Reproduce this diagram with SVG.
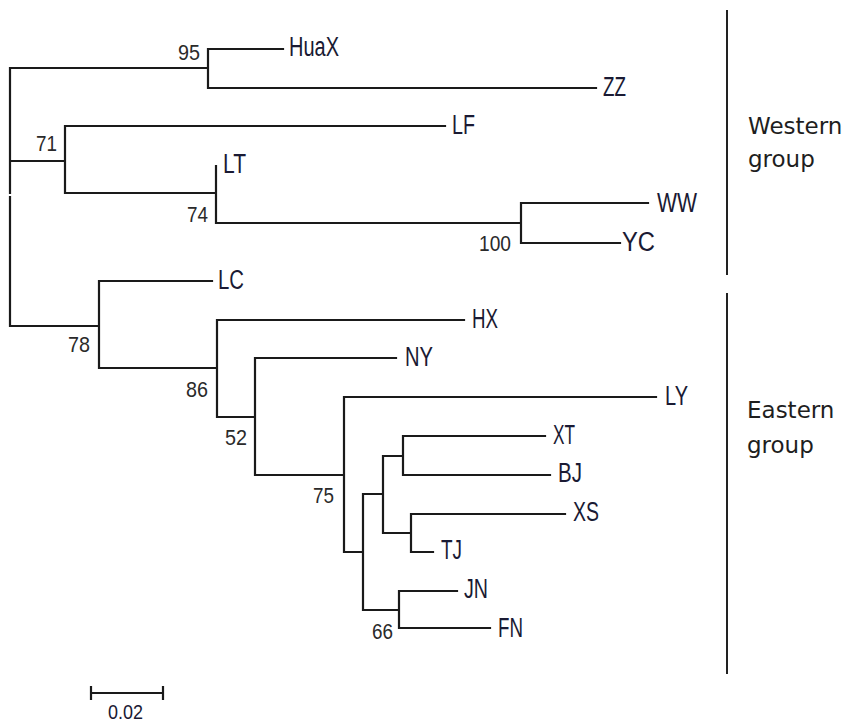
<svg xmlns="http://www.w3.org/2000/svg" width="845" height="724" viewBox="0 0 845 724">
<style>
.br{fill:none;stroke:#1a1a1a;stroke-width:2.2;stroke-linecap:square}
.sep{fill:none;stroke:#222;stroke-width:2}
.lf{font-family:"Liberation Sans",Arial,sans-serif;font-size:27px;fill:#1a1a33}
.bs{font-family:"Liberation Sans",Arial,sans-serif;font-size:22px;fill:#2a2a2a}
.grp{font-family:"DejaVu Sans",Verdana,sans-serif;font-size:23px;fill:#1e1e1e}
</style>
<rect width="845" height="724" fill="#fff"/>
<g id="connectors">
<path class="br" d="M10,68 V193 M10,197 V326
M10,68 H208 M208,49 V88 M208,49 H283 M208,88 H596
M10,161 H65 M65,126 V193 M65,126 H445 M65,193 H216 M216,166 V223 M216,223 H521 M521,203 V243 M521,203 H648 M521,243 H620
M10,326 H99 M99,281 V368 M99,281 H212 M99,368 H217 M217,320 V417 M217,320 H464 M217,417 H255 M255,358 V475 M255,358 H396 M255,475 H344
M344,397 V552 M344,397 H656 M344,552 H363 M363,494 V610 M363,494 H383 M383,456 V533 M383,456 H403 M403,436 V475 M403,436 H545 M403,475 H550
M383,533 H411 M411,514 V552 M411,514 H565 M411,552 H433 M363,610 H399 M399,591 V628 M399,591 H457 M399,628 H490"/>
</g>
<g id="leaf-HuaX"><text class="lf" x="289" y="56" textLength="50" lengthAdjust="spacingAndGlyphs">HuaX</text></g>
<g id="leaf-ZZ"><text class="lf" x="603" y="96" textLength="23" lengthAdjust="spacingAndGlyphs">ZZ</text></g>
<g id="leaf-LF"><text class="lf" x="452" y="134" textLength="23" lengthAdjust="spacingAndGlyphs">LF</text></g>
<g id="leaf-LT"><text class="lf" x="223" y="173" textLength="23" lengthAdjust="spacingAndGlyphs">LT</text></g>
<g id="leaf-WW"><text class="lf" x="657" y="212" textLength="40" lengthAdjust="spacingAndGlyphs">WW</text></g>
<g id="leaf-YC"><text class="lf" x="622" y="251" textLength="33" lengthAdjust="spacingAndGlyphs">YC</text></g>
<g id="leaf-LC"><text class="lf" x="218" y="289" textLength="26" lengthAdjust="spacingAndGlyphs">LC</text></g>
<g id="leaf-HX"><text class="lf" x="472" y="328" textLength="26" lengthAdjust="spacingAndGlyphs">HX</text></g>
<g id="leaf-NY"><text class="lf" x="405" y="366" textLength="28" lengthAdjust="spacingAndGlyphs">NY</text></g>
<g id="leaf-LY"><text class="lf" x="665" y="405" textLength="23" lengthAdjust="spacingAndGlyphs">LY</text></g>
<g id="leaf-XT"><text class="lf" x="553" y="444" textLength="22" lengthAdjust="spacingAndGlyphs">XT</text></g>
<g id="leaf-BJ"><text class="lf" x="558" y="482" textLength="24" lengthAdjust="spacingAndGlyphs">BJ</text></g>
<g id="leaf-XS"><text class="lf" x="573" y="521" textLength="26" lengthAdjust="spacingAndGlyphs">XS</text></g>
<g id="leaf-TJ"><text class="lf" x="441" y="559" textLength="21" lengthAdjust="spacingAndGlyphs">TJ</text></g>
<g id="leaf-JN"><text class="lf" x="464" y="598" textLength="24" lengthAdjust="spacingAndGlyphs">JN</text></g>
<g id="leaf-FN"><text class="lf" x="498" y="637" textLength="25" lengthAdjust="spacingAndGlyphs">FN</text></g>
<g id="node-95"><text class="bs" x="178" y="60" textLength="22" lengthAdjust="spacingAndGlyphs">95</text></g>
<g id="node-71"><text class="bs" x="36" y="151" textLength="21" lengthAdjust="spacingAndGlyphs">71</text></g>
<g id="node-74"><text class="bs" x="187" y="222" textLength="21" lengthAdjust="spacingAndGlyphs">74</text></g>
<g id="node-100"><text class="bs" x="479" y="251" textLength="32" lengthAdjust="spacingAndGlyphs">100</text></g>
<g id="node-78"><text class="bs" x="68" y="352" textLength="22" lengthAdjust="spacingAndGlyphs">78</text></g>
<g id="node-86"><text class="bs" x="186" y="397" textLength="22" lengthAdjust="spacingAndGlyphs">86</text></g>
<g id="node-52"><text class="bs" x="225" y="445" textLength="22" lengthAdjust="spacingAndGlyphs">52</text></g>
<g id="node-75"><text class="bs" x="313" y="503" textLength="21" lengthAdjust="spacingAndGlyphs">75</text></g>
<g id="node-66"><text class="bs" x="372" y="639" textLength="21" lengthAdjust="spacingAndGlyphs">66</text></g>
<g id="western-group">
<path class="sep" d="M727,10 V275"/>
<text class="grp" x="748" y="134">Western</text>
<text class="grp" x="748" y="167">group</text>
</g>
<g id="eastern-group">
<path class="sep" d="M727,293 V674"/>
<text class="grp" x="747" y="418">Eastern</text>
<text class="grp" x="747" y="453">group</text>
</g>
<g id="scale-bar">
<path class="br" d="M91,693 H163 M91,686 V700 M163,686 V700" style="stroke-linecap:butt"/>
<text class="lf" x="108" y="719" textLength="35" lengthAdjust="spacingAndGlyphs" style="font-size:21px">0.02</text>
</g>
</svg>
